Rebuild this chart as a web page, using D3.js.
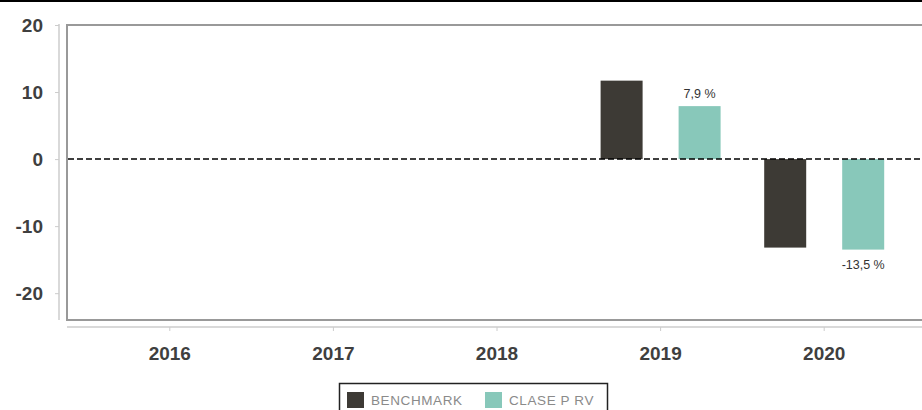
<!DOCTYPE html>
<html><head><meta charset="utf-8">
<script src="https://cdn.jsdelivr.net/npm/d3@7"></script>
<style>body{margin:0;background:#fff;overflow:hidden}svg{display:block}</style>
</head><body>
<svg id="c" width="922" height="410"></svg>
<script>
const years = ["2016","2017","2018","2019","2020"];
const seriesNames = ["BENCHMARK","CLASE P RV"];
const benchmark = [null,null,null,11.7,-13.2];
const clase = [null,null,null,7.9,-13.5];
const claseLabels = [null,null,null,"7,9 %","-13,5 %"];
const yTicks = [20,10,0,-10,-20];
const colors = ["#3d3a35","#88c8ba"];

const svg = d3.select("#c");
svg.append("rect").attr("x",0).attr("y",0).attr("width",922).attr("height",2).attr("fill","#000");

const y = d3.scaleLinear().domain([-24,20]).range([320,25]);
const x = d3.scaleBand().domain(years).range([88,906]);

// plot frame
svg.append("rect").attr("x",67).attr("y",25).attr("width",900).attr("height",295)
  .attr("fill","none").attr("stroke","#999").attr("stroke-width",2);

const fontF = "Liberation Sans, Arial, sans-serif";
// y axis
const ya = svg.append("g").attr("transform","translate(59,0)")
  .call(d3.axisLeft(y).tickValues(yTicks).tickFormat(d=>String(d)).tickSize(4).tickPadding(12));
ya.select(".domain").attr("stroke","#ccc").attr("stroke-width",1.5).attr("d","M0,24V320");
ya.selectAll(".tick line").attr("stroke","#ccc");
ya.selectAll("text").attr("font-family",fontF)
  .attr("font-size",19).attr("font-weight","bold").attr("fill","#3f3f3f");

// x axis
const xa = svg.append("g").attr("transform","translate(0,327)")
  .call(d3.axisBottom(x).tickSize(4).tickPadding(16));
xa.select(".domain").attr("stroke","#ccc").attr("stroke-width",1.5).attr("d","M67,0H922");
xa.selectAll(".tick line").attr("stroke","#ccc");
xa.selectAll("text").attr("font-family",fontF)
  .attr("font-size",19).attr("font-weight","bold").attr("fill","#3f3f3f");

const bw = 42, off = 39;
const data = [benchmark, clase];
data.forEach((vals,si)=>{
  const cx = si===0 ? -off : off;
  svg.append("g").selectAll("rect").data(years.map((yr,i)=>({yr,v:vals[i]})).filter(d=>d.v!==null))
    .join("rect")
    .attr("x",d=>x(d.yr)+x.bandwidth()/2+cx-bw/2)
    .attr("width",bw)
    .attr("y",d=>Math.min(y(d.v),y(0)))
    .attr("height",d=>Math.abs(y(d.v)-y(0)))
    .attr("fill",colors[si]);
});

// labels
svg.append("g").selectAll("text").data(years.map((yr,i)=>({yr,v:clase[i],t:claseLabels[i]})).filter(d=>d.v!==null))
  .join("text")
  .attr("x",d=>x(d.yr)+x.bandwidth()/2+off)
  .attr("y",d=>d.v>=0 ? y(d.v)-8 : y(d.v)+19)
  .attr("text-anchor","middle")
  .attr("font-family",fontF).attr("font-size",12.5)
  .attr("fill","#333").text(d=>d.t);

// zero line
svg.append("line").attr("x1",68).attr("x2",922).attr("y1",y(0)).attr("y2",y(0))
  .attr("stroke","#000").attr("stroke-width",1.5).attr("stroke-dasharray","6,3");

// legend
const lg = svg.append("g");
lg.append("rect").attr("x",339.5).attr("y",383.5).attr("width",268).attr("height",40)
  .attr("fill","#fff").attr("stroke","#222").attr("stroke-width",1.5);
const lx = [347,485];
seriesNames.forEach((n,i)=>{
  lg.append("rect").attr("x",lx[i]).attr("y",392).attr("width",17).attr("height",16).attr("fill",colors[i]);
  lg.append("text").attr("x",lx[i]+24).attr("y",405)
    .attr("font-family",fontF).attr("font-size",13.5).attr("letter-spacing",0.6)
    .attr("fill","#8a8a8a").text(n);
});
</script>
</body></html>
